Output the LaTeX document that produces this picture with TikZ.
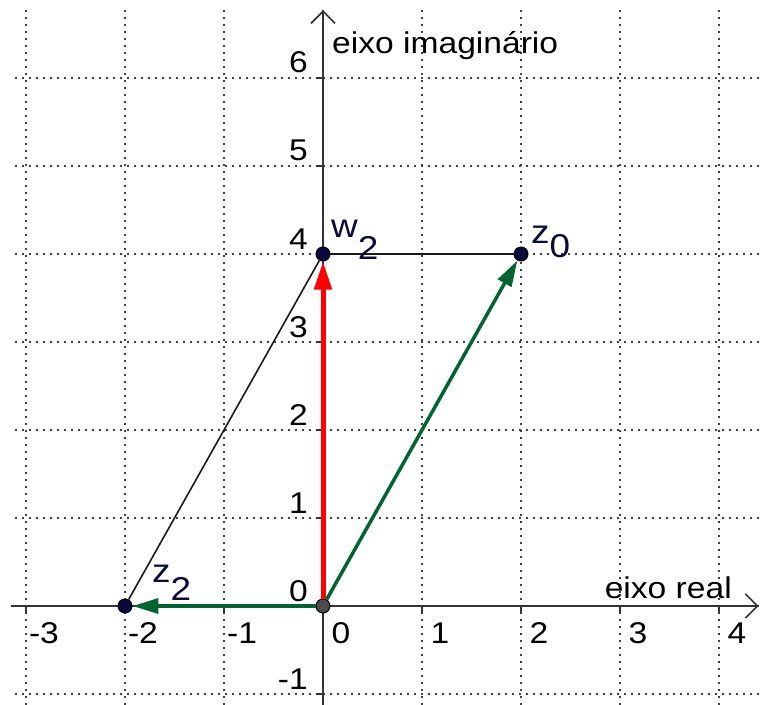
\documentclass[tikz,border=0pt]{standalone}
\usepackage{fontspec}
\setmainfont[FakeStretch=1.12]{Liberation Sans}
\usetikzlibrary{arrows.meta}

\definecolor{vecgreen}{RGB}{0,100,50}
\definecolor{ptnavy}{RGB}{10,10,60}
\newcommand\ptname[3]{#1\raisebox{-#3}{#2}}

\begin{document}
\begin{tikzpicture}[
  x=99pt, y=88pt,
  gridline/.style={line width=1.7pt, dash pattern=on 1.7pt off 5.3pt, black!75},
  axis/.style={line width=1.6pt, black!80, -{Straight Barb[length=12pt,width=24pt]}},
  axtick/.style={line width=1.6pt, black!80},
  num/.style={font=\fontsize{30}{36}\selectfont, inner sep=0pt},
  cpoint/.style={circle, draw=black, line width=1pt, fill=ptnavy, inner sep=0pt, minimum size=14pt},
  ptlbl/.style={font=\fontsize{33}{40}\selectfont, text=ptnavy, inner sep=0pt, anchor=base west},
  vec/.style={line width=3.5pt, vecgreen, -{Triangle[length=26pt,width=15pt]}},
  side/.style={line width=1.6pt, black!90}
]
\useasboundingbox (-3.2626,-1.1136) rectangle (4.4141,6.8864);

% grid
\foreach \j in {-1,...,6}
  \draw[gridline] (-3.11,\j) -- (4.42,\j);
\foreach \i in {-3,...,4}
  \draw[gridline] (\i,-1.12) -- (\i,6.77);

% axes
\draw[axis] (-3.15,0) -- (4.40,0);
\draw[axis] (0,-1.12) -- (0,6.77);
\foreach \i in {-3,...,4}
  \draw[axtick] (\i,0) -- ++(0pt,-7pt);
\foreach \j in {-1,...,6}
  \draw[axtick] (0,\j) -- ++(-7pt,0pt);

\foreach \i in {-3,...,4}
  \node[num, anchor=base] (xl\i) at ([shift={(18pt,-37pt)}]\i,0) {\i};
\foreach \j in {-1,...,6}
  \node[num, anchor=base east] (yl\j) at ([shift={(-15pt,5pt)}]0,\j) {\j};

\node[num, anchor=base west] (imaxis) at ([shift={(9pt,0pt)}]0,6.284) {eixo imaginário};
\node[num, anchor=base east] (reaxis) at ([shift={(0pt,8pt)}]4.131,0) {eixo real};

% points
\node[cpoint] (z2) at (-2,0) {};
\node[cpoint] (w2) at (0,4) {};
\node[cpoint] (z0) at (2,4) {};
\node[cpoint, fill=black!70] (o) at (0,0) {};

\draw[side] (z2) -- (w2) -- (z0);
\draw[vec] (o) -- (z0);
\draw[vec] (o) -- (z2);
\draw[vec, red, line width=5pt, -{Triangle[length=28pt,width=17pt]}] (o) -- (w2);

\node[ptlbl] (z2lbl) at ([shift={(27pt,24pt)}]z2.center) {\ptname{z}{2}{18pt}};
\node[ptlbl] (w2lbl) at ([shift={(8pt,17pt)}]w2.center) {\ptname{w}{2}{22pt}};
\node[ptlbl] (z0lbl) at ([shift={(10pt,11pt)}]z0.center) {\ptname{z}{0}{14pt}};

\end{tikzpicture}
\end{document}
